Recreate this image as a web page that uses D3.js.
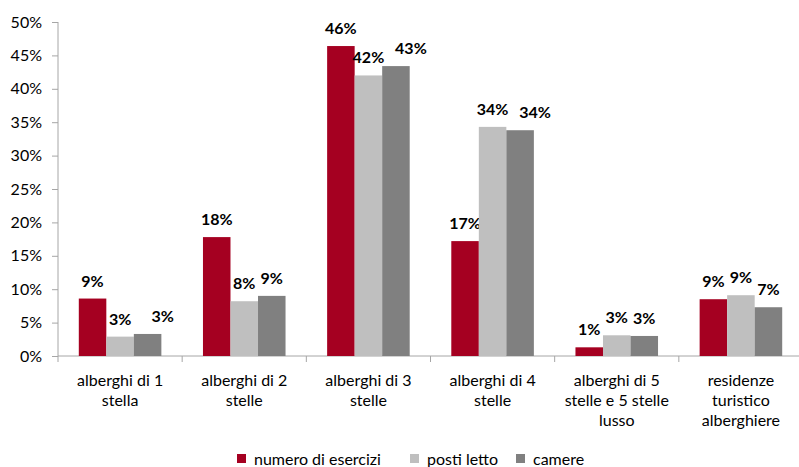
<!DOCTYPE html>
<html>
<head>
<meta charset="utf-8">
<script src="https://cdn.jsdelivr.net/npm/d3@7"></script>
<style>
  body { margin: 0; background: #fff; }
  svg text { font-family: Lato, "Open Sans", sans-serif; fill: #000; }
</style>
</head>
<body>
<svg width="799" height="467"></svg>
<script>
// categories (multi-line labels) and series
var categories = [
    ['alberghi di 1', 'stella'],
    ['alberghi di 2', 'stelle'],
    ['alberghi di 3', 'stelle'],
    ['alberghi di 4', 'stelle'],
    ['alberghi di 5', 'stelle e 5 stelle', 'lusso'],
    ['residenze', 'turistico', 'alberghiere']
];
var seriesNames = ['numero di esercizi', 'posti letto', 'camere'];
var esercizi = [8.6, 17.8, 46.4, 17.2, 1.3, 8.5];
var postiLetto = [2.9, 8.2, 42.0, 34.3, 3.1, 9.1];
var camere = [3.3, 9.0, 43.4, 33.8, 3.0, 7.3];
var yTicks = [0, 5, 10, 15, 20, 25, 30, 35, 40, 45, 50];

var colors = ['#A50021', '#BFBFBF', '#808080'];
var series = [esercizi, postiLetto, camere];
// horizontal nudge of the "camere" value labels (moved aside in the original)
var camereLabelShift = [15, 0, 15, 15, 0, 0];

var svg = d3.select('svg');
var padding = {t: 22, r: -4, b: 111, l: 58};
var svgWidth = +svg.attr('width');
var svgHeight = +svg.attr('height');
var chartWidth = svgWidth - padding.l - padding.r;
var chartHeight = svgHeight - padding.t - padding.b;

var chartG = svg.append('g')
    .attr('transform', 'translate(' + [padding.l, padding.t] + ')');

var x = d3.scaleBand()
    .domain(d3.range(categories.length))
    .range([0, chartWidth])
    .paddingInner(0.335)
    .paddingOuter(0.1675);

var xSub = d3.scaleBand()
    .domain(d3.range(series.length))
    .range([0, x.bandwidth()]);

var y = d3.scaleLinear()
    .domain([0, 50])
    .range([chartHeight, 0]);

// y axis
var yAxis = d3.axisLeft(y)
    .tickValues(yTicks)
    .tickSize(6)
    .tickPadding(10)
    .tickFormat(d => d + '%');

var yG = chartG.append('g').call(yAxis);
yG.selectAll('path, line').attr('stroke', '#A6A6A6');
yG.select('.domain').attr('d', 'M0,' + chartHeight + 'V0');
yG.selectAll('text').style('font-size', '16px').style('font-family', 'Lato, "Open Sans", sans-serif').attr('fill', '#000');

// x axis baseline and category ticks
var xG = chartG.append('g').attr('transform', 'translate(0,' + chartHeight + ')');
xG.append('line')
    .attr('x1', 0).attr('x2', chartWidth)
    .attr('stroke', '#A6A6A6');
var step = x.step();
xG.selectAll('.xtick')
    .data(d3.range(categories.length + 1))
    .enter().append('line')
    .attr('class', 'xtick')
    .attr('x1', d => d * step).attr('x2', d => d * step)
    .attr('y1', 0).attr('y2', 6)
    .attr('stroke', '#A6A6A6');

var catLabels = xG.selectAll('.cat')
    .data(categories)
    .enter().append('text')
    .attr('class', 'cat')
    .attr('text-anchor', 'middle')
    .attr('transform', (d, i) => 'translate(' + (x(i) + x.bandwidth() / 2) + ',30)')
    .style('font-size', '16px');
catLabels.selectAll('tspan')
    .data(d => d)
    .enter().append('tspan')
    .attr('x', 0)
    .attr('y', (d, i) => i * 20)
    .text(d => d);

// bars
series.forEach(function(vals, s) {
    var g = chartG.append('g');
    g.selectAll('rect')
        .data(vals)
        .enter().append('rect')
        .attr('x', (d, i) => x(i) + xSub(s))
        .attr('y', d => y(d))
        .attr('width', xSub.bandwidth())
        .attr('height', d => chartHeight - y(d))
        .attr('fill', colors[s]);
    g.selectAll('text')
        .data(vals)
        .enter().append('text')
        .attr('x', (d, i) => x(i) + xSub(s) + xSub.bandwidth() / 2 + (s === 2 ? camereLabelShift[i] : 0))
        .attr('y', d => y(d) - 12)
        .attr('text-anchor', 'middle')
        .style('font-size', '16px')
        .style('font-weight', 'bold')
        .text(d => Math.round(d) + '%');
});

// legend
var legendX = [237, 410, 516];
var legend = svg.append('g').attr('transform', 'translate(0,465)');
seriesNames.forEach(function(name, i) {
    legend.append('rect')
        .attr('x', legendX[i]).attr('y', -11)
        .attr('width', 9).attr('height', 9)
        .attr('fill', colors[i]);
    legend.append('text')
        .attr('x', legendX[i] + 17).attr('y', 0)
        .style('font-size', '16px')
        .text(name);
});
</script>
</body>
</html>
